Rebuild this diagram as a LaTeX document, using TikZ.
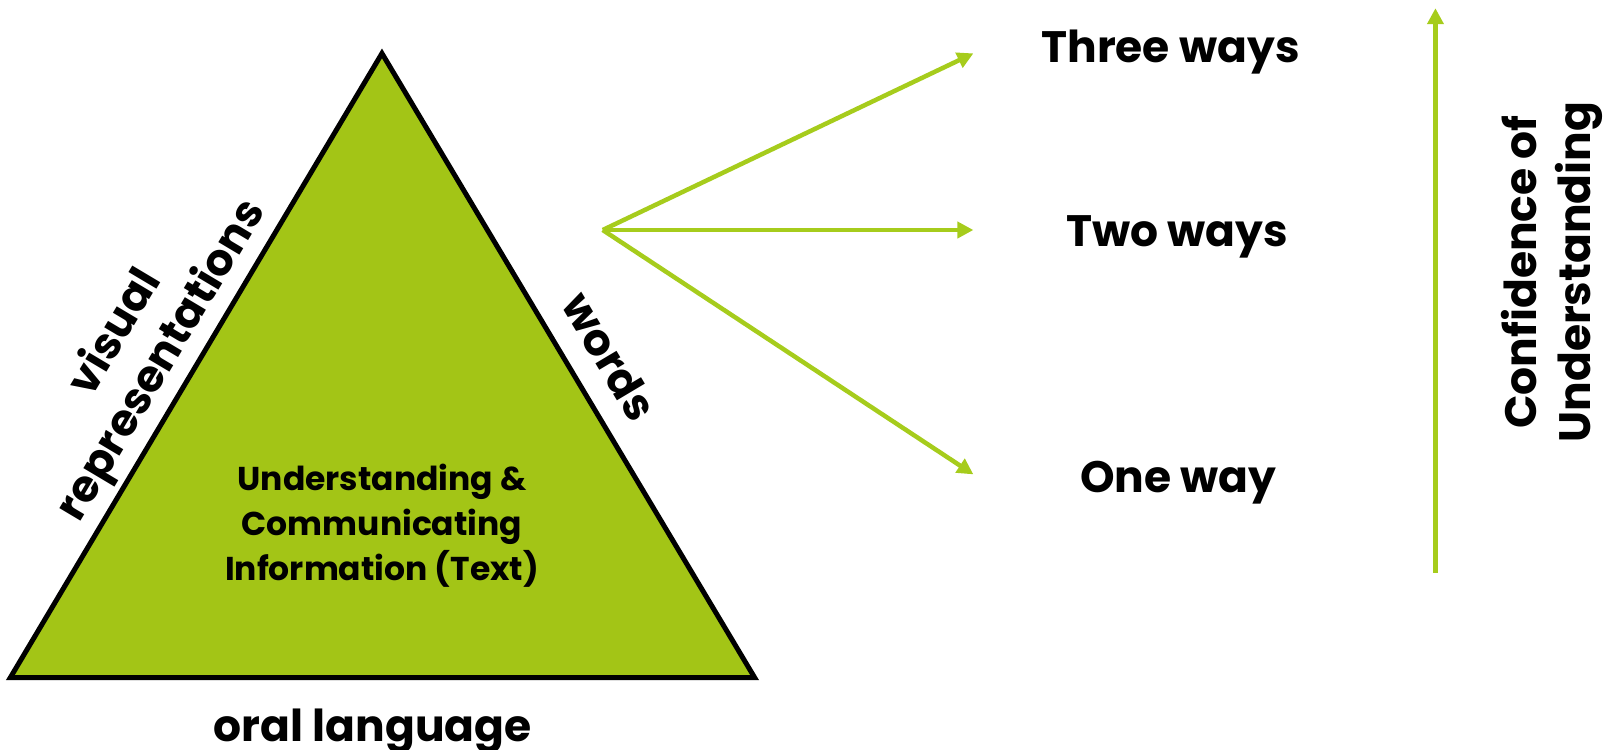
\documentclass[tikz,border=0pt]{standalone}
\usepackage{fontspec}
\setmainfont{Poppins}
\usetikzlibrary{arrows.meta}
\definecolor{trifill}{HTML}{A3C516}
\definecolor{arrgreen}{HTML}{A6CC1C}
\tikzset{
  garrow/.style={draw=arrgreen, line width=4.5pt, -{Triangle[length=16pt,width=16pt]}},
  bigtxt/.style={font=\fontsize{44}{54}\selectfont\bfseries, text=black, inner sep=0pt},
  midtxt/.style={font=\fontsize{33}{45}\selectfont\bfseries, text=black, inner sep=0pt, align=center},
}
\begin{document}
\begin{tikzpicture}[x=1.0268pt,y=-1.0268pt]
\useasboundingbox (0,0) rectangle (1568,730.4);
\coordinate (apex) at (372,52);
\coordinate (bl) at (10,660);
\coordinate (br) at (735,660);
\draw[fill=trifill, line width=5pt, line join=miter] (apex) -- (br) -- (bl) -- cycle;

\node[midtxt] (centre) at (372,512) {Understanding \&\\Communicating\\Information (Text)};
\node[bigtxt, anchor=base] (oral) at (363,722) {oral language};
\node[bigtxt, align=center, rotate=59.2] (visual) at (136,338) {visual\\representations};
\node[bigtxt, rotate=-59.2] (words) at (594,347) {words};

\coordinate (fan) at (587,224);
\coordinate (t3) at (948,52);
\coordinate (t2) at (948,224);
\coordinate (t1) at (948,462);
\node[bigtxt, anchor=base] (three) at (1140,60.4) {Three ways};
\node[bigtxt, anchor=base] (two) at (1146.5,240.5) {Two ways};
\node[bigtxt, anchor=base] (one) at (1147.5,480) {One way};
\draw[garrow] (fan) -- (t3);
\draw[garrow] (fan) -- (t2);
\draw[garrow] (fan) -- (t1);

\coordinate (vb) at (1398,558);
\coordinate (vt) at (1398,8);
\draw[garrow] (vb) -- (vt);
\node[bigtxt, align=center, rotate=90] (conf) at (1511,265) {Confidence of\\Understanding};
\end{tikzpicture}
\end{document}
